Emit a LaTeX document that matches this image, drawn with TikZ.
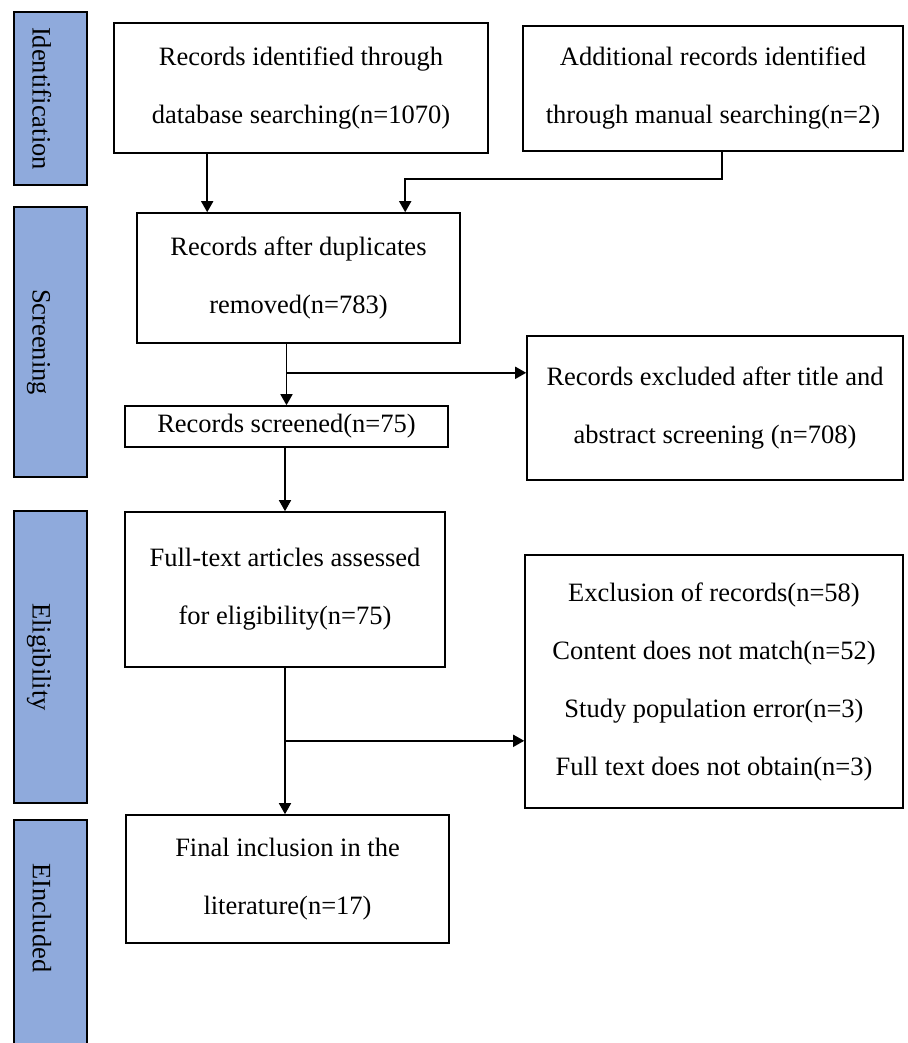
\documentclass[tikz,border=0pt]{standalone}
\usepackage{fontspec}
\setmainfont{Liberation Serif}
\usetikzlibrary{positioning, calc, arrows.meta}
\definecolor{phaseblue}{HTML}{8FAADC}
\tikzset{
  % PRISMA flow chart
  stagebox/.style = { draw, line width=1.6pt, align=center, inner sep=2pt,
                      font=\fontsize{26.5}{58}\selectfont },
  phasebar/.style = { draw, line width=1.6pt, fill=phaseblue, rotate=-90,
                      inner sep=0pt, text height=36pt, text depth=0pt,
                      font=\fontsize{26.5}{30}\selectfont },
  phaselabel/.style = { rotate=-90, inner sep=0pt, font=\fontsize{26.5}{30}\selectfont },
  flowarrow/.style = { line width=1.6pt, -{Triangle[length=11pt, width=12pt]} }
}

\begin{document}
\begin{tikzpicture}[x=1pt, y=-1pt]

  \clip (0,0) rectangle (907,1043);
  \fill[white] (0,0) rectangle (907,1043);

  % --- Phase bars on the left (rotated, so width/height swap) -------
  \node[phasebar, minimum width=173pt, minimum height=73pt] (ident) at (50.5,98.5)  {Identification};
  \node[phasebar, minimum width=270pt, minimum height=73pt] (screen) at (50.5,342)  {Screening};
  \node[phasebar, minimum width=292pt, minimum height=73pt] (elig)  at (50.5,657)   {Eligibility};
  \node[phasebar, minimum width=240pt, minimum height=73pt] (incl)  at (50.5,940)   {};
  \node[phaselabel] (incltext) at (42,918) {EIncluded};

  % --- Stage boxes ---------------------------------------------------
  \node[stagebox, minimum width=374pt, minimum height=130pt] (dbrec)  at (301,88)
    {Records identified through\\database searching(n=1070)};
  \node[stagebox, minimum width=380pt, minimum height=125pt] (manrec) at (713,88.5)
    {Additional records identified\\through manual searching(n=2)};
  \node[stagebox, minimum width=323pt, minimum height=130pt] (dedup)  at (298.5,278)
    {Records after duplicates\\removed(n=783)};
  \node[stagebox, minimum width=323pt, minimum height=41pt]  (screened) at (286.5,426.5)
    {Records screened(n=75)};
  \node[stagebox, minimum width=376pt, minimum height=144pt] (titleex) at (715,408)
    {Records excluded after title and\\abstract screening (n=708)};
  \node[stagebox, minimum width=320pt, minimum height=155pt] (fulltext) at (285,589.5)
    {Full-text articles assessed\\for eligibility(n=75)};
  \node[stagebox, minimum width=378pt, minimum height=253pt] (fullex) at (714,681.5)
    {Exclusion of records(n=58)\\Content does not match(n=52)\\Study population error(n=3)\\Full text does not obtain(n=3)};
  \node[stagebox, minimum width=323pt, minimum height=128pt] (final) at (287.5,879)
    {Final inclusion in the\\literature(n=17)};

  % --- Connectors ----------------------------------------------------
  \draw[flowarrow] ([xshift=94pt]dbrec.south west) -- ([xshift=94pt]dbrec.south west |- dedup.north);
  \draw[flowarrow] ([xshift=200pt]manrec.south west) -- ++(0,27) -| ([xshift=269pt]dedup.north west);

  \draw[flowarrow] (dedup.south -| screened.north) -- (screened.north);
  \coordinate (split1) at ($(dedup.south -| screened.north)+(0,29)$);
  \draw[flowarrow] (split1) -- (split1 -| titleex.west);

  \draw[flowarrow] (screened.south -| fulltext.north) -- (fulltext.north);

  \draw[flowarrow] (fulltext.south) -- (fulltext.south |- final.north);
  \coordinate (split2) at ($(fulltext.south)+(0,73)$);
  \draw[flowarrow] (split2) -- (split2 -| fullex.west);

\end{tikzpicture}
\end{document}
